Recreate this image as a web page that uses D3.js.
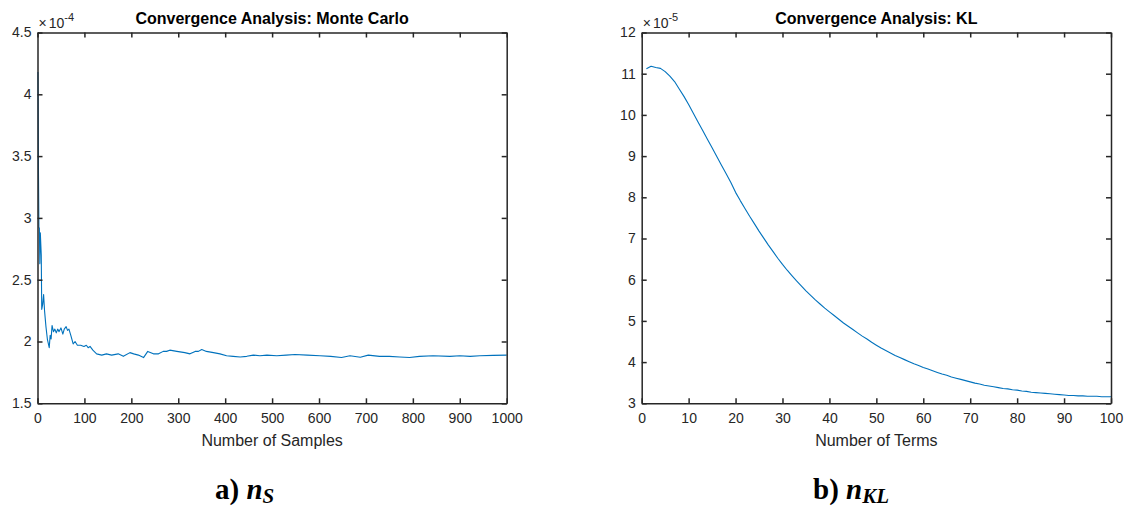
<!DOCTYPE html>
<html>
<head>
<meta charset="utf-8">
<script src="https://cdn.jsdelivr.net/npm/d3@7"></script>
<style>
  body { margin: 0; background: #fff; }
  svg { display: block; }
  .tick text { font-family: "Liberation Sans", Arial, sans-serif; font-size: 14px; fill: #262626; }
</style>
</head>
<body>
<svg id="chart" width="1132" height="507"></svg>
<script>
// Monte Carlo convergence (values x 1e-4)
const mcSamples = [1, 2, 3, 4, 5, 6, 8, 9, 11, 13, 15, 18, 21, 25, 27, 29, 31, 34, 37, 40, 43, 46, 50, 54, 57, 59, 61, 64, 67, 71, 76, 80, 85, 92, 99, 104, 108, 112, 118, 126, 137, 147, 158, 172, 183, 197, 205, 215, 226, 235, 247, 258, 268, 275, 282, 297, 314, 325, 336, 343, 350, 360, 375, 389, 403, 417, 432, 446, 460, 474, 489, 510, 530, 549, 575, 602, 625, 648, 666, 688, 705, 729, 750, 772, 793, 814, 843, 879, 900, 922, 943, 971, 1000]
const mcValues = [4.18, 3.40, 2.92, 2.92, 2.63, 2.88, 2.70, 2.26, 2.30, 2.38, 2.25, 2.12, 2.02, 1.95, 2.05, 2.02, 2.13, 2.08, 2.10, 2.07, 2.10, 2.08, 2.11, 2.06, 2.10, 2.11, 2.12, 2.09, 2.10, 2.05, 1.98, 2.00, 1.97, 1.97, 1.96, 1.97, 1.95, 1.96, 1.93, 1.90, 1.89, 1.90, 1.89, 1.90, 1.88, 1.91, 1.90, 1.89, 1.87, 1.92, 1.90, 1.90, 1.92, 1.92, 1.93, 1.92, 1.91, 1.90, 1.92, 1.92, 1.935, 1.92, 1.91, 1.90, 1.885, 1.88, 1.875, 1.88, 1.89, 1.885, 1.89, 1.885, 1.89, 1.895, 1.89, 1.885, 1.88, 1.87, 1.885, 1.873, 1.89, 1.88, 1.88, 1.875, 1.87, 1.88, 1.885, 1.88, 1.885, 1.88, 1.885, 1.888, 1.89]

// KL convergence (values x 1e-5), one per number of terms 1..100
const klTerms = d3.range(1, 101)
const klValues = [11.12, 11.18, 11.15, 11.13, 11.05, 10.94, 10.81, 10.63, 10.45, 10.25,
  10.04, 9.83, 9.62, 9.41, 9.20, 8.99, 8.78, 8.57, 8.36, 8.12,
  7.92, 7.73, 7.54, 7.36, 7.18, 7.01, 6.84, 6.68, 6.52, 6.37,
  6.23, 6.10, 5.97, 5.85, 5.73, 5.62, 5.51, 5.41, 5.31, 5.22,
  5.13, 5.04, 4.95, 4.87, 4.79, 4.71, 4.63, 4.56, 4.48, 4.41,
  4.34, 4.28, 4.22, 4.16, 4.11, 4.06, 4.01, 3.96, 3.92, 3.87,
  3.83, 3.79, 3.75, 3.71, 3.68, 3.64, 3.61, 3.58, 3.55, 3.52,
  3.49, 3.47, 3.44, 3.42, 3.40, 3.38, 3.36, 3.35, 3.33, 3.32,
  3.30, 3.29, 3.27, 3.26, 3.25, 3.24, 3.23, 3.22, 3.21, 3.20,
  3.19, 3.19, 3.18, 3.18, 3.17, 3.17, 3.17, 3.16, 3.16, 3.16]

const mcXTicks = d3.range(0, 1001, 100)
const mcYTicks = [1.5, 2, 2.5, 3, 3.5, 4, 4.5]
const klXTicks = d3.range(0, 101, 10)
const klYTicks = d3.range(3, 13, 1)

const svg = d3.select('#chart')
svg.append('rect').attr('width', 1132).attr('height', 507).attr('fill', '#fff')

let drawPanel = (opts) => {
  let xScale = d3.scaleLinear().domain(opts.xDomain).range([opts.left, opts.right])
  let yScale = d3.scaleLinear().domain(opts.yDomain).range([opts.bottom, opts.top])
  let g = svg.append('g')
  let axisColor = '#262626'

  // line first, axes drawn on top
  let line = d3.line()
    .x(d => xScale(d[0]))
    .y(d => yScale(d[1]))
  g.append('path')
    .datum(opts.xs.map((x, i) => [x, opts.ys[i]]))
    .attr('d', line)
    .attr('fill', 'none')
    .attr('stroke', '#0072BD')
    .attr('stroke-width', 1.1)
    .attr('stroke-linejoin', 'round')

  let fmt = d3.format('~g')
  g.append('g')
    .attr('transform', `translate(0,${opts.bottom})`)
    .call(d3.axisBottom(xScale).tickValues(opts.xTicks).tickFormat(fmt).tickSizeInner(-5).tickSizeOuter(0).tickPadding(10))
  g.append('g')
    .attr('transform', `translate(${opts.left},0)`)
    .call(d3.axisLeft(yScale).tickValues(opts.yTicks).tickFormat(fmt).tickSizeInner(-5).tickSizeOuter(0).tickPadding(6))
  g.append('g')
    .attr('transform', `translate(0,${opts.top})`)
    .call(d3.axisTop(xScale).tickValues(opts.xTicks).tickFormat('').tickSizeInner(-5).tickSizeOuter(0))
  g.append('g')
    .attr('transform', `translate(${opts.right},0)`)
    .call(d3.axisRight(yScale).tickValues(opts.yTicks).tickFormat('').tickSizeInner(-5).tickSizeOuter(0))

  g.selectAll('.domain, .tick line')
    .attr('stroke', axisColor)
    .attr('stroke-width', 1.5)

  let cx = (opts.left + opts.right) / 2
  g.append('text')
    .attr('x', cx)
    .attr('y', 24)
    .attr('text-anchor', 'middle')
    .style('font-family', '"Liberation Sans", Arial, sans-serif')
    .style('font-size', '16px')
    .style('font-weight', 'bold')
    .attr('fill', '#000')
    .text(opts.title)

  g.append('text')
    .attr('x', cx)
    .attr('y', 446)
    .attr('text-anchor', 'middle')
    .style('font-family', '"Liberation Sans", Arial, sans-serif')
    .style('font-size', '16px')
    .attr('fill', axisColor)
    .text(opts.xLabel)

  // exponent multiplier
  let ex = g.append('text')
    .attr('x', opts.left + 1)
    .attr('y', 28)
    .style('font-family', '"Liberation Sans", Arial, sans-serif')
    .style('font-size', '14px')
    .attr('fill', axisColor)
  ex.append('tspan').text('×')
  ex.append('tspan').attr('dx', 2).text('10')
  ex.append('tspan').attr('dy', -7).style('font-size', '11px').text(opts.exponent)

  // caption
  let cap = svg.append('text')
    .attr('x', opts.capX)
    .attr('y', 499)
    .style('font-family', '"Liberation Serif", "Times New Roman", serif')
    .style('font-size', '29px')
    .style('font-weight', 'bold')
    .attr('fill', '#000')
  cap.append('tspan').text(opts.capLetter + ') ')
  cap.append('tspan').style('font-style', 'italic').text('n')
  cap.append('tspan').style('font-style', 'italic').style('font-size', '21px').attr('dy', 4).text(opts.capSub)
}

drawPanel({
  xs: mcSamples, ys: mcValues,
  xDomain: [0, 1000], yDomain: [1.5, 4.5],
  xTicks: mcXTicks, yTicks: mcYTicks,
  left: 37.5, right: 506.7, top: 32.5, bottom: 403.3,
  title: 'Convergence Analysis: Monte Carlo',
  xLabel: 'Number of Samples',
  exponent: '-4',
  capX: 215, capLetter: 'a', capSub: 'S'
})

drawPanel({
  xs: klTerms, ys: klValues,
  xDomain: [0, 100], yDomain: [3, 12],
  xTicks: klXTicks, yTicks: klYTicks,
  left: 641.7, right: 1111, top: 32.5, bottom: 403.3,
  title: 'Convergence Analysis: KL',
  xLabel: 'Number of Terms',
  exponent: '-5',
  capX: 813, capLetter: 'b', capSub: 'KL'
})
</script>
</body>
</html>
